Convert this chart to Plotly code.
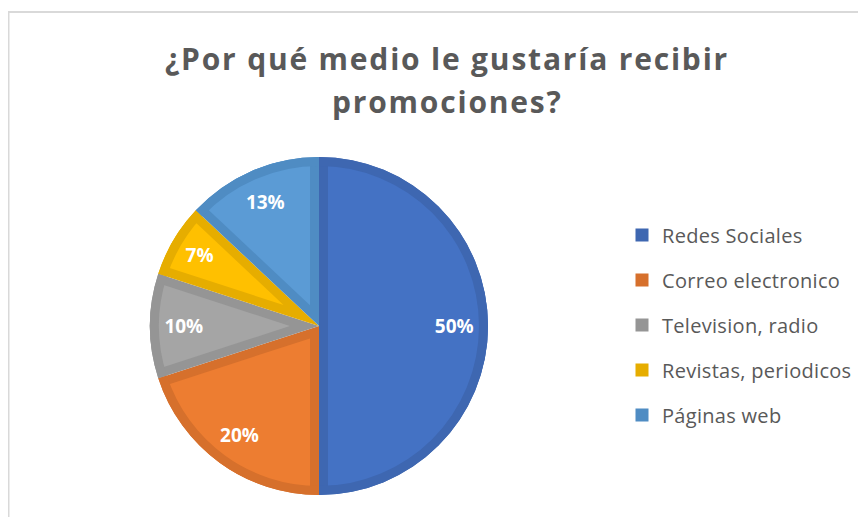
import math
import plotly.graph_objects as go

# data
labels = ["Redes Sociales", "Correo electronico", "Television, radio",
          "Revistas, periodicos", "Páginas web"]
values = [50, 20, 10, 7, 13]
fill_colors = ["#4472C4", "#ED7D31", "#A5A5A5", "#FFC000", "#5B9BD5"]
edge_colors = ["#3E67B1", "#D6702C", "#959595", "#E6AD00", "#4F8CC3"]
title_lines = ["¿Por qué medio le gustaría recibir", "promociones?"]

W, H = 866, 517
CX, CY, R = 311, 318, 169   # pie centre / radius in px (page has an 8px body margin)
D = 9                       # width of the darker inner outline

dom = dict(x=[(CX - R) / W, (CX + R) / W],
           y=[(H - CY - R) / H, (H - CY + R) / H])
clear = "rgba(0,0,0,0)"

fig = go.Figure()

# darker base disc
fig.add_trace(go.Pie(labels=labels, values=values, sort=False, direction="clockwise",
                     marker=dict(colors=edge_colors), textinfo="none", domain=dom,
                     showlegend=False, hoverinfo="skip"))

# lighter inset wedge for each slice (shifted out with pull)
total = sum(values)
for i, v in enumerate(values):
    half = math.pi * v / total
    off = D / math.sin(min(half, math.pi / 2))
    pull = [0] * len(values)
    pull[i] = off / (R - off)
    cols = [clear] * len(values)
    cols[i] = fill_colors[i]
    fig.add_trace(go.Pie(labels=labels, values=values, sort=False, direction="clockwise",
                         marker=dict(colors=cols), pull=pull, textinfo="none",
                         domain=dom, showlegend=False, hoverinfo="skip"))

# darker outer ring
fig.add_trace(go.Pie(labels=labels, values=values, sort=False, direction="clockwise",
                     marker=dict(colors=edge_colors), hole=(R - D) / R, textinfo="none",
                     domain=dom, showlegend=False, hoverinfo="skip"))

# percentage labels (transparent donut so the text sits near 0.8 R)
fig.add_trace(go.Pie(labels=labels, values=values, sort=False, direction="clockwise",
                     marker=dict(colors=[clear] * len(values)), hole=0.6,
                     textinfo="percent", textposition="inside",
                     insidetextorientation="horizontal",
                     insidetextfont=dict(family="Open Sans", size=19, color="white", weight="bold"),
                     domain=dom, showlegend=False))

# legend entries
for i, lab in enumerate(labels):
    fig.add_trace(go.Scatter(x=[None], y=[None], mode="markers",
                             name='<span style="letter-spacing:0.3px">%s</span>' % lab,
                             legendgroup=lab,
                             marker=dict(symbol="square", size=13, color=edge_colors[i])))

title_font = dict(family="Open Sans", size=30, color="#595959", weight="bold")
fig.update_layout(
    width=W, height=H,
    margin=dict(l=0, r=0, t=0, b=0),
    paper_bgcolor="white", plot_bgcolor="white",
    xaxis=dict(visible=False), yaxis=dict(visible=False),
    legend=dict(x=614 / W, xanchor="left", y=1 - 317 / H, yanchor="middle",
                font=dict(family="Open Sans", size=20, color="#595959"),
                tracegroupgap=16, itemwidth=30),
    annotations=[dict(text='<span style="letter-spacing:1.8px">%s</span>' % t,
                      xref="paper", yref="paper", x=439 / W, y=1 - yy / H,
                      xanchor="center", yanchor="middle", showarrow=False, font=title_font)
                 for t, yy in zip(title_lines, [51, 93])],
    shapes=[dict(type="rect", xref="paper", yref="paper",
                 x0=0.5 / W, x1=1.05, y0=-0.05, y1=1 - 4 / H,
                 line=dict(color="#D9D9D9", width=2))],
)

fig.write_html("out.html")
